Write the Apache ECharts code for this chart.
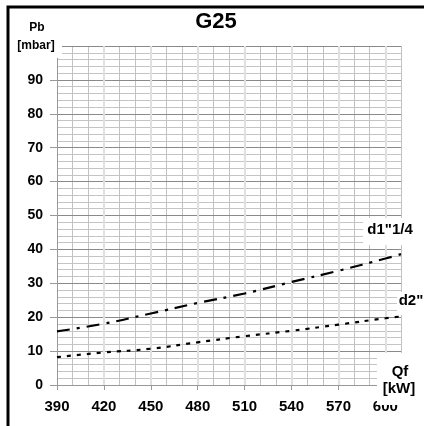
<!DOCTYPE html>
<html>
<head>
<meta charset="utf-8">
<script src="https://cdn.jsdelivr.net/npm/echarts@6/dist/echarts.min.js"></script>
<style>
html,body{margin:0;padding:0;background:#fff;}
#c{width:424px;height:426px;}
</style>
</head>
<body>
<div id="c"></div>
<script>
const titleText = 'G25';
const xVals = [390, 420, 450, 480, 510, 540, 570, 600, 610];
const d1Vals = [15.8, 18.1, 21.1, 24.2, 27.0, 30.4, 33.7, 37.3, 38.6];
const d2Vals = [8.2, 9.6, 10.7, 12.6, 14.4, 16.0, 17.8, 19.7, 20.2];
const d1Name = 'd1"1/4';
const d2Name = 'd2"';

const FONT = '"Liberation Sans", Arial, sans-serif';
const chart = echarts.init(document.getElementById('c'), null, {renderer: 'canvas'});

function labelBox(x, y, w, h, lines) {
  const children = [{
    type: 'rect', shape: {x: x, y: y, width: w, height: h},
    style: {fill: '#fff'}, z: 100
  }];
  lines.forEach(l => children.push({
    type: 'text', x: l.x, y: l.y, z: 101,
    style: {text: l.t, fill: '#000', font: 'bold ' + l.s + 'px ' + FONT, align: 'center', verticalAlign: 'middle'}
  }));
  return children;
}

const option = {
  animation: false,
  backgroundColor: '#fff',
  grid: {left: 57, right: 23, top: 46, bottom: 41, containLabel: false},
  xAxis: [
    {
      type: 'value', position: 'bottom', min: 390, max: 610, interval: 10, z: 0,
      axisLine: {show: false}, axisTick: {show: false}, axisLabel: {show: false},
      splitLine: {show: true, lineStyle: {color: '#c2c2c2', width: 1}}
    },
    {
      type: 'value', position: 'bottom', min: 390, max: 610, interval: 30, z: 3,
      axisLine: {show: true, onZero: false, lineStyle: {color: '#999', width: 1}},
      axisTick: {show: true, length: 5, lineStyle: {color: '#999'}},
      axisLabel: {
        margin: 14, color: '#000', fontWeight: 'bold', fontSize: 15, fontFamily: FONT,
        formatter: v => (v > 600 ? '' : String(v))
      },
      splitLine: {show: true, showMinLine: false, showMaxLine: false, lineStyle: {color: '#e0e0e0', width: 2}}
    }
  ],
  yAxis: [
    {
      type: 'value', position: 'left', min: 0, max: 100, interval: 2, z: 0,
      axisLine: {show: false}, axisTick: {show: false}, axisLabel: {show: false},
      splitLine: {show: true, lineStyle: {color: '#c4c4c4', width: 1}}
    },
    {
      type: 'value', position: 'left', min: 0, max: 100, interval: 10, z: 2,
      axisLine: {show: true, onZero: false, lineStyle: {color: '#999', width: 1}},
      axisTick: {show: true, length: 7, lineStyle: {color: '#999'}},
      axisLabel: {
        margin: 14, color: '#000', fontWeight: 'bold', fontSize: 14, fontFamily: FONT,
        formatter: v => (v >= 100 ? '' : String(v))
      },
      splitLine: {show: true, lineStyle: {color: '#8a8a8a', width: 1}}
    }
  ],
  series: [
    {
      name: d1Name, type: 'line', xAxisIndex: 1, yAxisIndex: 1, z: 10,
      smooth: true, showSymbol: false, symbol: 'none',
      lineStyle: {color: '#000', width: 2.2, type: [13, 7, 3, 7]},
      data: xVals.map((x, i) => [x, d1Vals[i]])
    },
    {
      name: d2Name, type: 'line', xAxisIndex: 1, yAxisIndex: 1, z: 10,
      smooth: true, showSymbol: false, symbol: 'none',
      lineStyle: {color: '#000', width: 2.2, type: [4, 6]},
      data: xVals.map((x, i) => [x, d2Vals[i]])
    }
  ],
  graphic: [
    {type: 'rect', shape: {x: 8, y: 7, width: 440, height: 440}, style: {fill: 'none', stroke: '#000', lineWidth: 3}, z: 120},
    {type: 'text', x: 216, y: 22, z: 101,
     style: {text: titleText, fill: '#000', font: 'bold 22px ' + FONT, align: 'center', verticalAlign: 'middle'}},
    ...labelBox(12, 34, 50, 24, [{t: 'Pb', x: 37, y: 28, s: 12}, {t: '[mbar]', x: 36, y: 46, s: 12}]),
    ...labelBox(377, 353, 47, 52, [{t: 'Qf', x: 400, y: 372, s: 15}, {t: '[kW]', x: 399, y: 389, s: 15}]),
    ...labelBox(363, 218, 61, 27, [{t: d1Name, x: 390, y: 230, s: 15}]),
    ...labelBox(397, 292, 27, 23, [{t: d2Name, x: 411, y: 301, s: 15}])
  ]
};
chart.setOption(option);
</script>
</body>
</html>
